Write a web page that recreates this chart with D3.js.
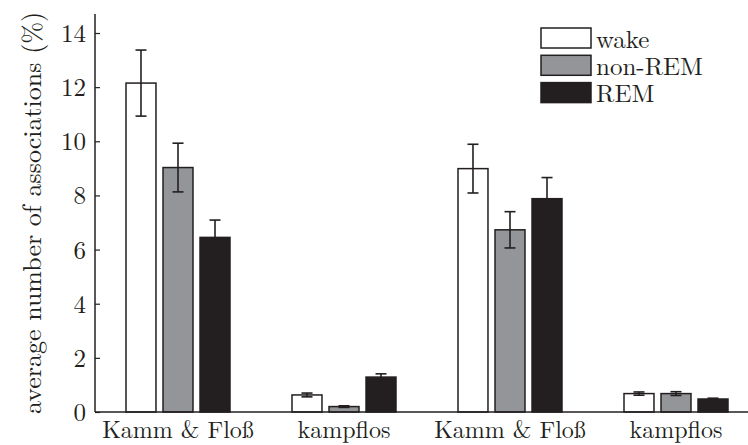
<!DOCTYPE html>
<html>
<head>
<meta charset="utf-8">
<script src="https://cdn.jsdelivr.net/npm/d3@7"></script>
<style>
  body { margin: 0; background: #fff; }
</style>
</head>
<body>
<svg id="chart" width="748" height="445"></svg>
<script>
// chart data
const categories = ["Kamm & Floß", "kampflos", "Kamm & Floß", "kampflos"];
const seriesNames = ["wake", "non-REM", "REM"];
const wakeValues = [12.15, 0.63, 8.99, 0.68];
const nonRemValues = [9.03, 0.2, 6.73, 0.68];
const remValues = [6.45, 1.29, 7.88, 0.48];
const wakeErrors = [1.22, 0.07, 0.9, 0.06];
const nonRemErrors = [0.9, 0.03, 0.67, 0.07];
const remErrors = [0.64, 0.12, 0.78, 0.03];
const yTicks = [0, 2, 4, 6, 8, 10, 12, 14];

const colors = ["#ffffff", "#939598", "#231f20"];
const ink = "#231f20";
const serif = "Latin Modern Roman";

const svg = d3.select("#chart");
const margin = { left: 95, top: 14 };

const seriesValues = [wakeValues, nonRemValues, remValues];
const seriesErrors = [wakeErrors, nonRemErrors, remErrors];

// bar groups sit at 1..4 with limits 0.5..4.5 (the right end is cut off by the picture)
let x = d3.scaleBand().domain(d3.range(categories.length)).range([95, 759]);
let inner = d3.scaleBand().domain(d3.range(seriesNames.length)).range([-52, 52]).paddingInner(0.19);
let y = d3.scaleLinear().domain([0, 14]).range([412, 33]);

// flatten the bars
let bars = [];
categories.forEach((c, i) => {
    seriesNames.forEach((s, j) => {
        bars.push({ group: i, series: j, value: seriesValues[j][i], err: seriesErrors[j][i] });
    });
});

function barX(d) {
    return x(d.group) + x.bandwidth() / 2 + inner(d.series);
}

svg.append("g")
    .selectAll("rect")
    .data(bars)
    .enter()
    .append("rect")
    .attr("x", barX)
    .attr("y", (d) => y(d.value))
    .attr("width", inner.bandwidth())
    .attr("height", (d) => y(0) - y(d.value))
    .attr("fill", (d) => colors[d.series])
    .attr("stroke", ink)
    .attr("stroke-width", 1.5);

// error bars
let errs = svg.append("g").attr("stroke", ink).attr("stroke-width", 1.6);
bars.forEach((d) => {
    let cx = barX(d) + inner.bandwidth() / 2;
    let y1 = y(d.value + d.err);
    let y2 = y(d.value - d.err);
    errs.append("line").attr("x1", cx).attr("x2", cx).attr("y1", y1).attr("y2", y2);
    errs.append("line").attr("x1", cx - 5.5).attr("x2", cx + 5.5).attr("y1", y1).attr("y2", y1);
    errs.append("line").attr("x1", cx - 5.5).attr("x2", cx + 5.5).attr("y1", y2).attr("y2", y2);
});

// y axis, ticks pointing inward
let yAxis = svg.append("g")
    .attr("transform", "translate(" + margin.left + ",0)")
    .call(d3.axisLeft(y).tickValues(yTicks).tickSizeInner(-5).tickSizeOuter(0).tickPadding(9));
yAxis.attr("font-family", serif).attr("font-size", 25);
yAxis.select(".domain").remove();
yAxis.selectAll("line").attr("stroke", ink).attr("stroke-width", 1.2);
yAxis.selectAll("text")
    .attr("fill", ink)
    .attr("dy", "0.34em");

svg.append("line")
    .attr("x1", margin.left).attr("x2", margin.left)
    .attr("y1", margin.top).attr("y2", y(0))
    .attr("stroke", ink).attr("stroke-width", 1.5);
svg.append("line")
    .attr("x1", margin.left).attr("x2", 748)
    .attr("y1", y(0)).attr("y2", y(0))
    .attr("stroke", ink).attr("stroke-width", 1.5);

// category labels
svg.append("g")
    .selectAll("text")
    .data(categories)
    .enter()
    .append("text")
    .attr("x", (d, i) => x(i) + x.bandwidth() / 2)
    .attr("y", 438)
    .attr("text-anchor", "middle")
    .attr("fill", ink)
    .attr("font-family", serif)
    .attr("font-size", 24)
    .text((d) => d);

// y label
svg.append("text")
    .attr("transform", "translate(41,213) rotate(-90)")
    .attr("text-anchor", "middle")
    .attr("fill", ink)
    .attr("font-family", serif)
    .attr("font-size", 26)
    .text("average number of associations (%)");

// legend, spacing as tight as in the reference
let legend = svg.append("g").attr("transform", "translate(541,28)");
seriesNames.forEach((s, j) => {
    legend.append("rect")
        .attr("x", 0)
        .attr("y", j * 27.3)
        .attr("width", 50)
        .attr("height", 20)
        .attr("fill", colors[j])
        .attr("stroke", ink)
        .attr("stroke-width", 1.5);
    legend.append("text")
        .attr("x", 55)
        .attr("y", j * 27.3 + 19.5)
        .attr("fill", ink)
        .attr("font-family", serif)
        .attr("font-size", 25)
        .text(s);
});
</script>
</body>
</html>
